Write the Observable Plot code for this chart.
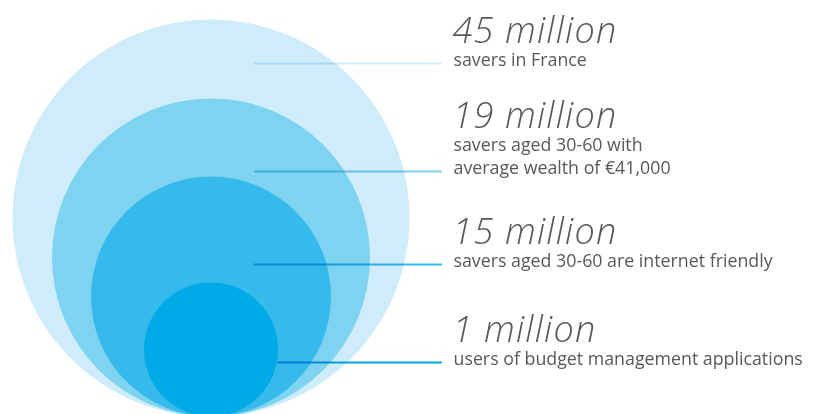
<!DOCTYPE html>
<html><head><meta charset="utf-8">
<script src="https://cdn.jsdelivr.net/npm/d3@7"></script>
<script src="https://cdn.jsdelivr.net/npm/@observablehq/plot@0.6"></script>
<style>html,body{margin:0;padding:0;background:#fff;overflow:hidden}</style>
</head><body><div id="chart"></div>
<script>
// ---- data ----
const tierValues = [45, 19, 15, 1]; // millions
const headlines = ["45 million", "19 million", "15 million", "1 million"];
const descriptions = [
  "savers in France",
  "savers aged 30-60 with\naverage wealth of €41,000",
  "savers aged 30-60 are internet friendly",
  "users of budget management applications"
];

// ---- layout & style ----
const W = 827, H = 414;
const circleColors = ["#cfecfa", "#7dd3f0", "#36baeb", "#00aae6"];
const centerX = 210.5, baseY = 416;
const leaderY = [63, 171, 264, 362];
const leaderStart = [254, 254, 254, 277.5];
const leaderEnd = 442;
const textX = 453;
const lineGap = 23, titleGap = 23;

const rScaleOptions = {type: "linear", domain: [1, 15, 19, 45], range: [67, 120, 159, 198.5]};
const rScale = Plot.scale({r: rScaleOptions});

const tiers = tierValues.map((v, i) => ({
  value: v,
  headline: headlines[i],
  description: descriptions[i],
  color: circleColors[i],
  lineY: leaderY[i],
  x1: leaderStart[i],
  nLines: descriptions[i].split("\n").length
}));

const chart = Plot.plot({
  width: W, height: H,
  margin: 0,
  x: {domain: [0, W], range: [0, W], axis: null},
  y: {domain: [0, H], range: [0, H], axis: null},
  r: rScaleOptions,
  marks: [
    Plot.dot(tiers, {x: () => centerX, y: d => baseY - rScale.apply(d.value), r: "value", fill: "color"}),
    Plot.ruleY(tiers, {y: "lineY", x1: "x1", x2: () => leaderEnd, stroke: "color", strokeWidth: 2}),
    Plot.text(tiers, {
      x: () => textX, y: d => d.lineY + 2, text: "description",
      textAnchor: "start", lineAnchor: "bottom", lineHeight: lineGap / 17.8,
      fontSize: 17.8, fontFamily: "Open Sans", fill: "#58585a"
    }),
    Plot.text(tiers, {
      x: () => textX - 1, y: d => d.lineY + 2 - lineGap * (d.nLines - 1) - titleGap, text: "headline",
      textAnchor: "start", lineAnchor: "bottom",
      fontSize: 36, fontFamily: "Open Sans", fontStyle: "italic", fontWeight: 300, fill: "#58585a"
    })
  ]
});
chart.querySelectorAll('g[aria-label="rule"]').forEach(g => g.style.mixBlendMode = "multiply");
const textGroups = chart.querySelectorAll('g[aria-label="text"]');
if (textGroups.length > 1) textGroups[1].style.letterSpacing = "1.2px";
document.getElementById("chart").appendChild(chart);
</script>
</body></html>
